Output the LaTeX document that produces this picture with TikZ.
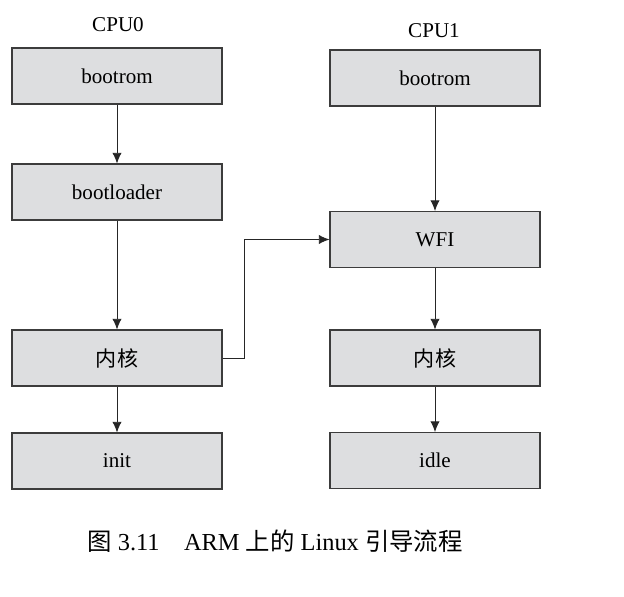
\documentclass[tikz,border=0pt]{standalone}
\usepackage{fontspec}
\setmainfont{Liberation Serif}
\newfontfamily\cjk{Noto Sans CJK SC}
\usepackage{tikz}
\usetikzlibrary{arrows.meta}
\definecolor{boxgray}{RGB}{221,222,224}
\definecolor{edgegray}{RGB}{60,60,60}
\tikzset{
    stage/.style={shape=rectangle, draw=edgegray, fill=boxgray, line width=0.8pt,
        minimum width=157.5pt, minimum height=42pt, inner sep=0pt},
    flow/.style={-{Latex[length=8pt, width=7pt]}, line width=0.7pt, draw=black!85}}

\begin{document}
\begin{tikzpicture}[x=0.75pt, y=-0.75pt, font=\fontsize{15.8}{18}\selectfont]

    \useasboundingbox (0,0) rectangle (624,596);

    % CPU0
    \node (cpuA) at (118,25) {CPU0};
    \node[stage] (bootA) at (117,76) {bootrom};
    \node[stage] (loader) at (117,192) {bootloader};
    \node[stage] (kernA) at (117,358) {\cjk 内核};
    \node[stage] (init) at (117,461) {init};

    % CPU1
    \node (cpuB) at (434,31) {CPU1};
    \node[stage] (bootB) at (435,78) {bootrom};
    \node[stage] (wfi) at (435,239.5) {WFI};
    \node[stage] (kernB) at (435,358) {\cjk 内核};
    \node[stage] (idle) at (435,460.5) {idle};

    \draw[flow] (bootA) -- (loader);
    \draw[flow] (loader) -- (kernA);
    \draw[flow] (kernA) -- (init);
    \draw[flow] (bootB) -- (wfi);
    \draw[flow] (wfi) -- (kernB);
    \draw[flow] (kernB) -- (idle);
    \draw[flow] (kernA.east) -- ++(22,0) |- (wfi.west);

    \node[font=\fontsize{18.3}{22}\selectfont] (caption) at (275,541)
        {{\cjk 图} 3.11\quad ARM {\cjk 上的} Linux {\cjk 引导流程}};

\end{tikzpicture}
\end{document}
